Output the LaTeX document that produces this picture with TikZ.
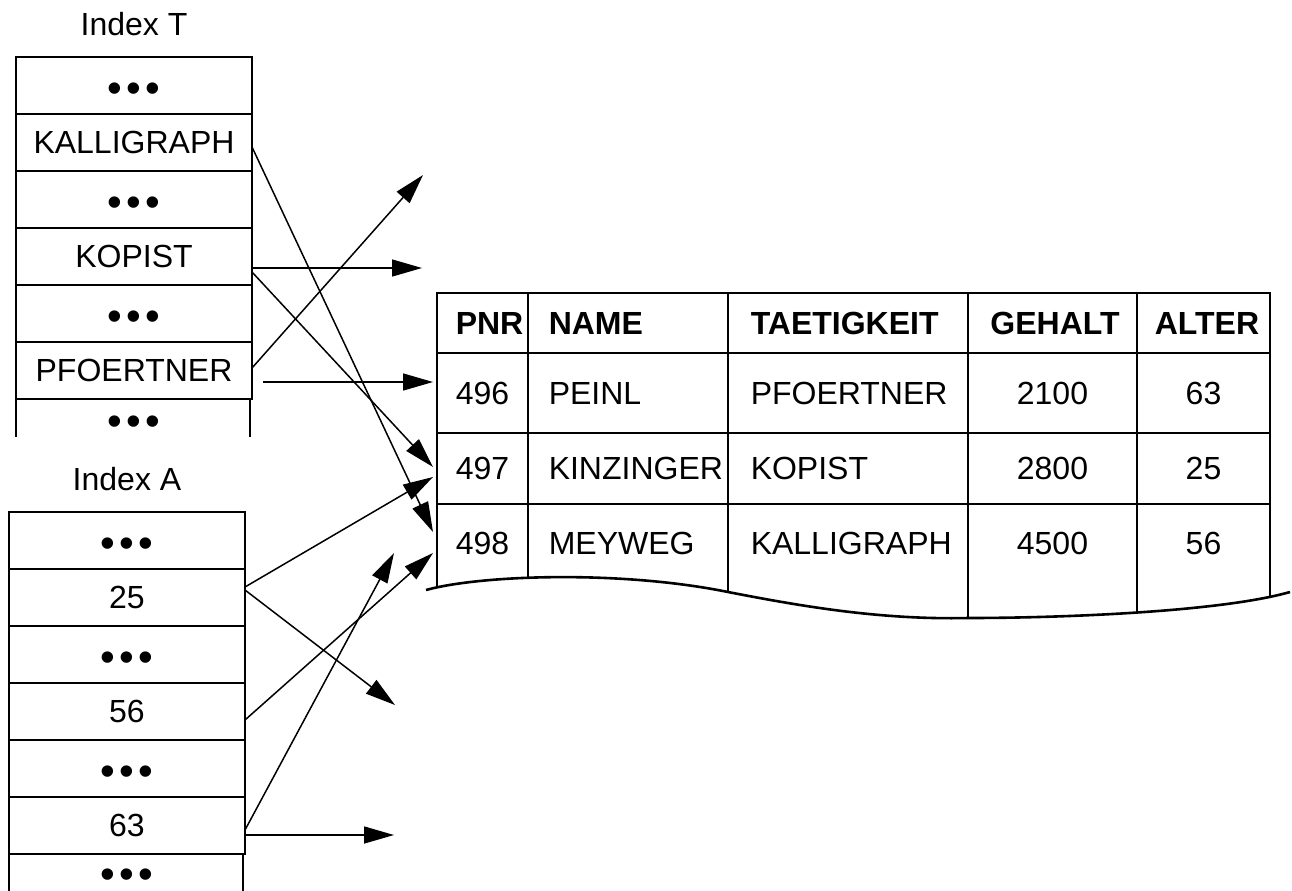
\documentclass[tikz,border=0pt]{standalone}
\usepackage{fontspec}
\setmainfont{Liberation Sans}
\usetikzlibrary{arrows.meta,positioning,calc}
\newcommand\cellfont{\fontsize{16}{19}\selectfont}
\newcommand\dotrow{\raisebox{-8.5pt}[0pt][0pt]{\fontsize{21}{21}\selectfont •\hspace{2.2pt}•\hspace{2.2pt}•}}
\newcommand\tablewave{(426,590) .. controls (480,575) and (620,570) .. (728,592) .. controls (800,606) and (880,620) .. (968,618) .. controls (1060,618) and (1220,612) .. (1290,592)}

\begin{document}
\begin{tikzpicture}[x=0.5pt, y=-0.5pt, font=\cellfont, line width=0.75pt,
  >={Triangle[length=15pt,width=8.5pt]},
  cell/.style={draw, line width=0.9pt, minimum width=118pt, minimum height=28.5pt, inner sep=0pt, outer sep=0pt},
  open/.style={minimum width=118pt, minimum height=#1, inner sep=0pt, outer sep=0pt},
  rowbox/.style={draw, line width=1.3pt, minimum width=416.5pt, minimum height=#1, inner sep=0pt, outer sep=0pt},
  txt/.style={inner sep=0pt},
  hdtxt/.style={txt, font=\cellfont\bfseries},
  ptr/.style={->}]
\useasboundingbox (0,0) rectangle (1292,890);

% Index T
\node[cell] (t1) at (134,85.5) {\dotrow};
\node[cell, below=0pt of t1] (t2) {KALLIGRAPH};
\node[cell, below=0pt of t2] (t3) {\dotrow};
\node[cell, below=0pt of t3] (t4) {KOPIST};
\node[cell, below=0pt of t4] (t5) {\dotrow};
\node[cell, below=0pt of t5] (t6) {PFOERTNER};
\node[open=19pt, below=0pt of t6] (t7) {\dotrow};
\draw[line width=0.9pt] (t6.south west) -- (t7.south west)
  ($(t6.south east)+(-2,0)$) -- ($(t7.south east)+(-2,0)$);
\node[above=6.7pt of t1] (idxT) {Index T};

% Index A
\node[cell] (a1) at (127,540.5) {\dotrow};
\node[cell, below=0pt of a1] (a2) {25};
\node[cell, below=0pt of a2] (a3) {\dotrow};
\node[cell, below=0pt of a3] (a4) {56};
\node[cell, below=0pt of a4] (a5) {\dotrow};
\node[cell, below=0pt of a5] (a6) {63};
\node[open=17pt, below=0pt of a6] (a7) {\dotrow};
\draw[line width=0.9pt] (a6.south west) -- ($(a7.south west)+(0,4)$)
  ($(a6.south east)+(-2,0)$) -- ($(a7.south east)+(-2,4)$);
\node[above=6.7pt of a1] (idxA) {Index A};

% table
\node[rowbox=30pt] (hd) at (853.5,323) {};
\node[rowbox=40pt, below=0pt of hd] (r1) {};
\node[rowbox=35.5pt, below=0pt of r1] (r2) {};
\node[open=39pt, minimum width=416.5pt, below=0pt of r2] (r3) {};
\draw[line width=1.3pt] \tablewave;
\begin{scope}
  \clip \tablewave -- (1290,280) -- (426,280) -- cycle;
  \foreach \x in {437,528,728,968,1137,1270}
    \draw[line width=1.3pt] (\x,293) -- (\x,640);
\end{scope}

\node[hdtxt, anchor=west] (hdPnr) at ($(hd.west)+(18,0)$) {PNR};
\node[hdtxt, anchor=west] (hdName) at ($(hd.west)+(111,0)$) {NAME};
\node[hdtxt, anchor=west] (hdJob) at ($(hd.west)+(313,0)$) {TAETIGKEIT};
\node[hdtxt] (hdPay) at ($(hd.west)+(618,0)$) {GEHALT};
\node[hdtxt] (hdAge) at ($(hd.west)+(770,0)$) {ALTER};
\foreach \r/\pnr/\nm/\job/\pay/\age in {r1/496/PEINL/PFOERTNER/2100/63,
    r2/497/KINZINGER/KOPIST/2800/25, r3/498/MEYWEG/KALLIGRAPH/4500/56}{
  \node[txt, anchor=west] (\r-pnr) at ($(\r.west)+(18,0)$) {\pnr};
  \node[txt, anchor=west] (\r-nm) at ($(\r.west)+(111,0)$) {\nm};
  \node[txt, anchor=west] (\r-job) at ($(\r.west)+(313,0)$) {\job};
  \node[txt] (\r-pay) at ($(\r.west)+(615.5,0)$) {\pay};
  \node[txt] (\r-age) at ($(\r.west)+(766.5,0)$) {\age};
}

% pointers
\coordinate (kopOut) at (422,268);
\coordinate (pfOut) at (423,175);
\coordinate (a25Out) at (395,705);
\coordinate (a63Up) at (394,553);
\coordinate (a63Out) at (394,835);
\draw[ptr] ($(t2.east)+(0,4.5)$) -- ($(r3.west)+(-4,-11)$);
\draw[ptr] ($(t4.east)+(0,11.5)$) -- (kopOut);
\draw[ptr] ($(t4.east)+(0,15.5)$) -- ($(r2.west)+(-4,-1.5)$);
\draw[ptr] ($(t6.east)+(0,-2.5)$) -- (pfOut);
\draw[ptr] ($(t6.east)+(11,11.5)$) -- ($(r1.west)+(-4,-11)$);
\draw[ptr] ($(a2.east)+(0,-10.5)$) -- ($(r2.west)+(-4,8.5)$);
\draw[ptr] ($(a2.east)+(0,-7.5)$) -- (a25Out);
\draw[ptr] ($(a4.east)+(0,8.5)$) -- ($(r3.west)+(-4,10)$);
\draw[ptr] ($(a6.east)+(0,4.5)$) -- (a63Up);
\draw[ptr] ($(a6.east)+(0,9.5)$) -- (a63Out);
\end{tikzpicture}
\end{document}
